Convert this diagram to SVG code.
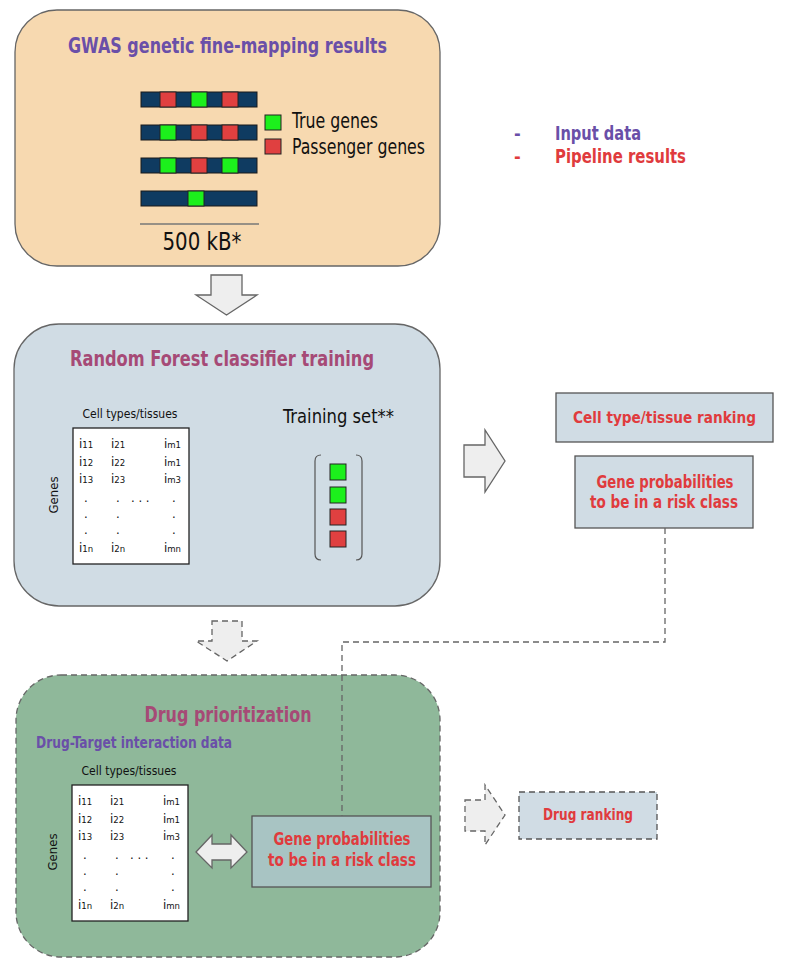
<svg xmlns="http://www.w3.org/2000/svg" width="787" height="969" viewBox="0 0 787 969">
<style>
text{font-family:'Liberation Sans Narrow','DejaVu Sans Condensed',Roboto,sans-serif}
.b{font-weight:bold}
.pur{fill:#6a4fa8}
.mau{fill:#a64a76}
.red{fill:#e03b3d}
.blk{fill:#111}
.panel{stroke:#666;stroke-width:1.3}
.dash{stroke-dasharray:6 4}
.arrow{fill:#eeeeee;stroke:#666;stroke-width:1.3}
.navy{fill:#0f3b61;stroke:#1a1a1a;stroke-width:1}
.g{fill:#1cf01c;stroke:#222;stroke-width:1}
.r{fill:#e04040;stroke:#222;stroke-width:1}
.res{fill:#d0dce4;stroke:#555;stroke-width:1.3}
.cell{font-size:13px;fill:#111}
.sub{font-size:9.5px}
.mx{fill:#fff;stroke:#222;stroke-width:1.3}
</style>
<defs>
<g id="matrix">
<text class="cell" x="57" y="-10" text-anchor="middle" textLength="95" lengthAdjust="spacingAndGlyphs">Cell types/tissues</text>
<text class="cell" transform="translate(-15.5,67) rotate(-90)" text-anchor="middle">Genes</text>
<rect class="mx" x="0" y="0" width="116" height="136"/>
<g class="cell">
<text x="6" y="20">i<tspan class="sub">11</tspan></text>
<text x="38" y="20">i<tspan class="sub">21</tspan></text>
<text x="91" y="20">i<tspan class="sub">m1</tspan></text>
<text x="6" y="38">i<tspan class="sub">12</tspan></text>
<text x="38" y="38">i<tspan class="sub">22</tspan></text>
<text x="91" y="38">i<tspan class="sub">m1</tspan></text>
<text x="6" y="55">i<tspan class="sub">13</tspan></text>
<text x="38" y="55">i<tspan class="sub">23</tspan></text>
<text x="91" y="55">i<tspan class="sub">m3</tspan></text>
<text x="11" y="74">.</text>
<text x="43" y="74">.</text>
<text x="58" y="74">. . .</text>
<text x="99" y="74">.</text>
<text x="11" y="90">.</text>
<text x="43" y="90">.</text>
<text x="99" y="90">.</text>
<text x="11" y="106">.</text>
<text x="43" y="106">.</text>
<text x="99" y="106">.</text>
<text x="6" y="124">i<tspan class="sub">1n</tspan></text>
<text x="38" y="124">i<tspan class="sub">2n</tspan></text>
<text x="91" y="124">i<tspan class="sub">mn</tspan></text>
</g>
</g>
</defs>

<g id="legend">
<text class="pur b" x="514" y="140" font-size="18">-</text>
<text class="pur b" x="555" y="140" font-size="20" textLength="86" lengthAdjust="spacingAndGlyphs">Input data</text>
<text class="red b" x="514" y="163" font-size="18">-</text>
<text class="red b" x="555" y="163" font-size="20" textLength="131" lengthAdjust="spacingAndGlyphs">Pipeline results</text>
</g>

<g id="gwas">
<rect class="panel" x="15" y="10" width="425" height="256" rx="42" fill="#f7d9b0"/>
<text class="pur b" x="227.5" y="53" font-size="22" text-anchor="middle" textLength="319" lengthAdjust="spacingAndGlyphs">GWAS genetic fine-mapping results</text>
<rect class="navy" x="141" y="92" width="116" height="15"/>
<rect class="r" x="160" y="92" width="16" height="15"/>
<rect class="g" x="191" y="92" width="16" height="15"/>
<rect class="r" x="222" y="92" width="16" height="15"/>
<rect class="navy" x="141" y="125" width="116" height="15"/>
<rect class="g" x="160" y="125" width="16" height="15"/>
<rect class="r" x="191" y="125" width="16" height="15"/>
<rect class="r" x="222" y="125" width="16" height="15"/>
<rect class="navy" x="141" y="158" width="116" height="15"/>
<rect class="g" x="160" y="158" width="16" height="15"/>
<rect class="r" x="191" y="158" width="16" height="15"/>
<rect class="g" x="222" y="158" width="16" height="15"/>
<rect class="navy" x="141" y="191" width="116" height="15"/>
<rect class="g" x="188" y="191" width="16" height="15"/>
<line x1="140" y1="224" x2="259" y2="224" stroke="#777" stroke-width="1.3"/>
<text class="blk" x="202" y="250" font-size="25" text-anchor="middle" textLength="79" lengthAdjust="spacingAndGlyphs">500 kB*</text>
<rect class="g" x="265" y="115" width="16" height="15"/>
<rect class="r" x="265" y="139" width="16" height="15"/>
<text class="blk" x="292" y="128" font-size="21" textLength="86" lengthAdjust="spacingAndGlyphs">True genes</text>
<text class="blk" x="292" y="154" font-size="21" textLength="133" lengthAdjust="spacingAndGlyphs">Passenger genes</text>
</g>

<g id="rf-training">
<rect class="panel" x="14" y="324" width="426" height="282" rx="45" fill="#d0dce4"/>
<text class="mau b" x="222" y="366" font-size="21" text-anchor="middle" textLength="304" lengthAdjust="spacingAndGlyphs">Random Forest classifier training</text>
<use href="#matrix" x="73" y="428"/>
<text class="blk" x="283" y="423" font-size="20" textLength="111" lengthAdjust="spacingAndGlyphs">Training set**</text>
<path d="M321,455 Q315,455 315,461 V554 Q315,560 321,560" fill="none" stroke="#555" stroke-width="1.2"/>
<path d="M356,455 Q362,455 362,461 V554 Q362,560 356,560" fill="none" stroke="#555" stroke-width="1.2"/>
<rect class="g" x="330" y="464" width="16" height="16"/>
<rect class="g" x="330" y="487" width="16" height="16"/>
<rect class="r" x="330" y="509" width="16" height="16"/>
<rect class="r" x="330" y="531" width="16" height="16"/>
</g>

<g id="celltype-ranking">
<rect class="res" x="556" y="393" width="217" height="49"/>
<text class="red b" x="573" y="423" font-size="15" textLength="183" lengthAdjust="spacingAndGlyphs">Cell type/tissue ranking</text>
</g>

<g id="gene-prob-1">
<rect class="res" x="575" y="456" width="178" height="72"/>
<text class="red b" x="665" y="488" font-size="17" text-anchor="middle" textLength="137" lengthAdjust="spacingAndGlyphs">Gene probabilities</text>
<text class="red b" x="664" y="508" font-size="17" text-anchor="middle" textLength="148" lengthAdjust="spacingAndGlyphs">to be in a risk class</text>
</g>

<g id="drug-prioritization">
<rect class="panel dash" x="16" y="675" width="424" height="282" rx="45" fill="#8fb89a"/>
<text class="mau b" x="228" y="721.5" font-size="21" text-anchor="middle" textLength="167" lengthAdjust="spacingAndGlyphs">Drug prioritization</text>
<text class="pur b" x="36" y="748" font-size="15" textLength="196" lengthAdjust="spacingAndGlyphs">Drug-Target interaction data</text>
<use href="#matrix" x="72" y="785"/>
</g>

<g id="gene-prob-2">
<rect x="252" y="816" width="179" height="71" fill="#a8c4c3" stroke="#555" stroke-width="1.3"/>
<text class="red b" x="342" y="845" font-size="17" text-anchor="middle" textLength="137" lengthAdjust="spacingAndGlyphs">Gene probabilities</text>
<text class="red b" x="342" y="866" font-size="17" text-anchor="middle" textLength="148" lengthAdjust="spacingAndGlyphs">to be in a risk class</text>
</g>

<g id="drug-ranking">
<rect class="res dash" x="519" y="792" width="138" height="47"/>
<text class="red b" x="588" y="819.5" font-size="16" text-anchor="middle" textLength="90" lengthAdjust="spacingAndGlyphs">Drug ranking</text>
</g>

<g id="connectors">
<polygon class="arrow" points="211,275 242,275 242,295 257,295 226.5,315 196,295 211,295"/>
<polygon class="arrow dash" points="212,621 242,621 242,641 257,641 227,661 196,641 212,641"/>
<polygon class="arrow" points="464,445 485,445 485,430 505,461 485,492 485,477 464,477"/>
<polygon class="arrow dash" points="465,800 485,800 485,785 505,815 485,845 485,831 465,831"/>
<polygon class="arrow" points="196,852 212,835 212,844 231,844 231,835 247,852 231,868 231,860 212,860 212,868"/>
<path d="M665,528 V642 H342 V816" fill="none" stroke="#666" stroke-width="1.3" stroke-dasharray="6 4"/>
</g>
</svg>
